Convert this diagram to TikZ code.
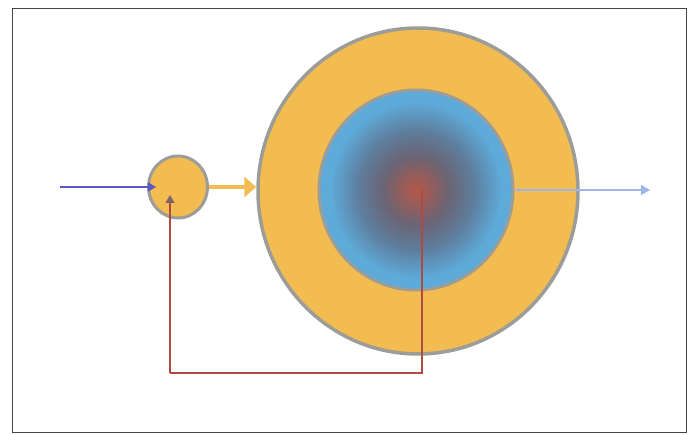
\documentclass[tikz,border=0pt]{standalone}
\usetikzlibrary{shapes.geometric,arrows.meta}
\definecolor{ringyellow}{HTML}{F2BC50}
\definecolor{rimgray}{HTML}{9C9C98}
\definecolor{coreblue}{HTML}{5EAAD8}
\definecolor{coremid}{HTML}{5E7E9E}
\definecolor{coredark}{HTML}{6A6474}
\definecolor{corered}{HTML}{B2584A}
\definecolor{inblue}{HTML}{5C58C8}
\definecolor{outblue}{HTML}{9CB6EA}
\definecolor{fbred}{HTML}{B04A3E}
\definecolor{fbhead}{HTML}{7E6464}
\definecolor{framegray}{HTML}{444444}
\pgfdeclareradialshading{coreshade}{\pgfpoint{0bp}{0bp}}{%
  color(0bp)=(corered); color(3bp)=(corered!70!coredark); color(8.5bp)=(coredark); color(15bp)=(coremid); color(22bp)=(coreblue); color(25bp)=(coreblue); color(50bp)=(coreblue)}
\tikzset{
  disc/.style={ellipse, draw=rimgray, line width=3.5pt, fill=ringyellow, inner sep=0pt},
  core/.style={ellipse, draw=rimgray, line width=3pt, shading=coreshade, inner sep=0pt},
  inarrow/.style={draw=inblue, line width=1.4pt, -{Triangle[length=8pt,width=9pt]}},
  passarrow/.style={draw=ringyellow, line width=3.5pt, -{Triangle[length=12pt,width=20pt]}},
  outarrow/.style={draw=outblue, line width=1.6pt, -{Triangle[length=9pt,width=10pt]}},
  fbline/.style={draw=fbred, line width=1.4pt},
  fbarrow/.style={draw=fbred, line width=1.4pt, -{Triangle[length=8pt,width=9pt,color=fbhead]}}
}
\begin{document}
\begin{tikzpicture}[x=1pt,y=-1pt]
\useasboundingbox (0,0) rectangle (697,435);
\draw[framegray, line width=0.8pt] (12,8) rectangle (686,432);
\node[disc, minimum width=320pt, minimum height=326pt] (outer) at (418,191) {};
\node[core, minimum width=194pt, minimum height=200pt] (inner) at (416,190) {};
\node[disc, line width=3pt, minimum width=59pt, minimum height=62pt] (small) at (178,187) {};
\coordinate (src) at (60,187);
\coordinate (sink) at (650,190);
\coordinate (fbcorner1) at (422,373);
\coordinate (fbcorner2) at (170,373);
\coordinate (fbend) at (170,195);
\coordinate (ctr) at (422,190);
\draw[inarrow] (src) -- ([xshift=9pt]small.west);
\draw[passarrow] (small.east) -- (small.east -| outer.west);
\draw[outarrow] (inner.east |- sink) -- (sink);
\draw[fbline] (ctr) -- (fbcorner1) -- (fbcorner2);
\draw[fbarrow] (fbcorner2) -- (fbend);
\end{tikzpicture}
\end{document}
